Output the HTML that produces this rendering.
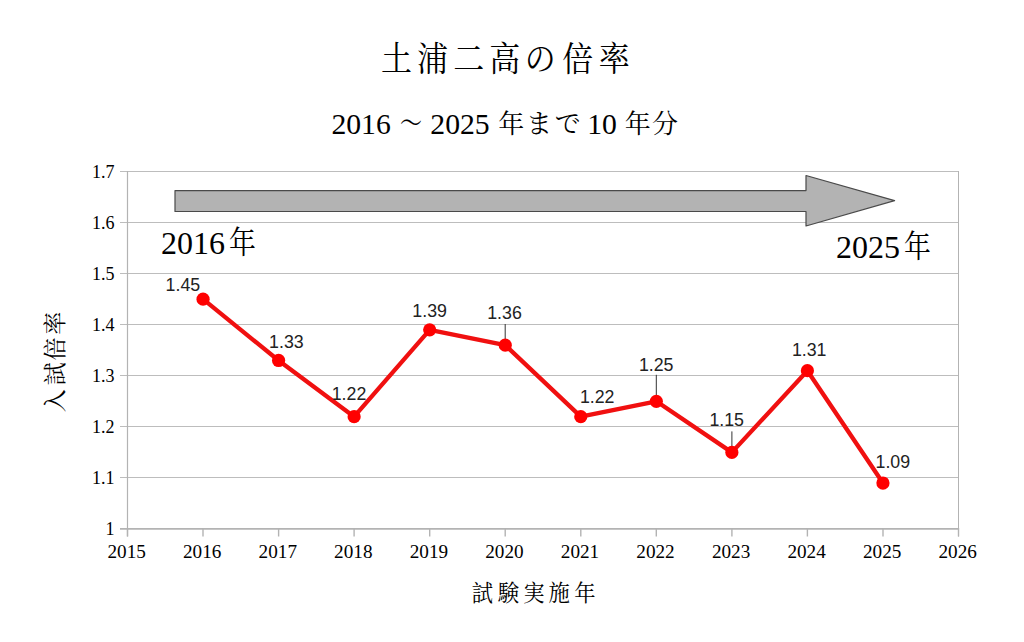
<!DOCTYPE html><html><head><meta charset="utf-8"><style>
html,body{margin:0;padding:0;background:#fff;width:1024px;height:642px;overflow:hidden}
svg{display:block}
.g{stroke:#bdbdbd;stroke-width:1;fill:none}
.ax{stroke:#b3b3b3;fill:none}
.ser{font-family:"Liberation Serif","Noto Serif CJK SC",serif;fill:#000}
.cjk{font-family:"Noto Serif CJK SC","Liberation Serif",serif;fill:#000}
.lbl{font-family:"Liberation Sans","DejaVu Sans",sans-serif;font-size:17.8px;fill:#222}
</style></head><body>
<svg width="1024" height="642" viewBox="0 0 1024 642">
<rect width="1024" height="642" fill="#fff"/>
<line x1="120" y1="477.5" x2="958" y2="477.5" class="g"/>
<line x1="120" y1="426.5" x2="958" y2="426.5" class="g"/>
<line x1="120" y1="375.5" x2="958" y2="375.5" class="g"/>
<line x1="120" y1="324.5" x2="958" y2="324.5" class="g"/>
<line x1="120" y1="273.5" x2="958" y2="273.5" class="g"/>
<line x1="120" y1="222.5" x2="958" y2="222.5" class="g"/>
<line x1="120" y1="171.5" x2="958" y2="171.5" class="g"/>
<line x1="127.5" y1="171" x2="127.5" y2="536.5" class="ax" stroke-width="1.2"/>
<line x1="958.5" y1="171" x2="958.5" y2="536.5" class="ax" stroke-width="1"/>
<line x1="120" y1="528.9" x2="958.5" y2="528.9" class="ax" stroke-width="1.6"/>
<line x1="127.5" y1="528" x2="127.5" y2="536.5" class="ax" stroke-width="1.4"/>
<line x1="203.0" y1="528" x2="203.0" y2="536.5" class="ax" stroke-width="1.4"/>
<line x1="278.6" y1="528" x2="278.6" y2="536.5" class="ax" stroke-width="1.4"/>
<line x1="354.1" y1="528" x2="354.1" y2="536.5" class="ax" stroke-width="1.4"/>
<line x1="429.7" y1="528" x2="429.7" y2="536.5" class="ax" stroke-width="1.4"/>
<line x1="505.2" y1="528" x2="505.2" y2="536.5" class="ax" stroke-width="1.4"/>
<line x1="580.8" y1="528" x2="580.8" y2="536.5" class="ax" stroke-width="1.4"/>
<line x1="656.3" y1="528" x2="656.3" y2="536.5" class="ax" stroke-width="1.4"/>
<line x1="731.9" y1="528" x2="731.9" y2="536.5" class="ax" stroke-width="1.4"/>
<line x1="807.4" y1="528" x2="807.4" y2="536.5" class="ax" stroke-width="1.4"/>
<line x1="883.0" y1="528" x2="883.0" y2="536.5" class="ax" stroke-width="1.4"/>
<line x1="958.5" y1="528" x2="958.5" y2="536.5" class="ax" stroke-width="1.4"/>
<text x="114.5" y="535.0" class="ser" font-size="18" text-anchor="end">1</text>
<text x="114.5" y="483.9" class="ser" font-size="18" text-anchor="end">1.1</text>
<text x="114.5" y="432.9" class="ser" font-size="18" text-anchor="end">1.2</text>
<text x="114.5" y="381.8" class="ser" font-size="18" text-anchor="end">1.3</text>
<text x="114.5" y="330.7" class="ser" font-size="18" text-anchor="end">1.4</text>
<text x="114.5" y="279.6" class="ser" font-size="18" text-anchor="end">1.5</text>
<text x="114.5" y="228.6" class="ser" font-size="18" text-anchor="end">1.6</text>
<text x="114.5" y="177.5" class="ser" font-size="18" text-anchor="end">1.7</text>
<text x="126.7" y="558" class="ser" font-size="19.2" text-anchor="middle">2015</text>
<text x="202.2" y="558" class="ser" font-size="19.2" text-anchor="middle">2016</text>
<text x="277.8" y="558" class="ser" font-size="19.2" text-anchor="middle">2017</text>
<text x="353.3" y="558" class="ser" font-size="19.2" text-anchor="middle">2018</text>
<text x="428.9" y="558" class="ser" font-size="19.2" text-anchor="middle">2019</text>
<text x="504.4" y="558" class="ser" font-size="19.2" text-anchor="middle">2020</text>
<text x="580.0" y="558" class="ser" font-size="19.2" text-anchor="middle">2021</text>
<text x="655.5" y="558" class="ser" font-size="19.2" text-anchor="middle">2022</text>
<text x="731.1" y="558" class="ser" font-size="19.2" text-anchor="middle">2023</text>
<text x="806.6" y="558" class="ser" font-size="19.2" text-anchor="middle">2024</text>
<text x="882.2" y="558" class="ser" font-size="19.2" text-anchor="middle">2025</text>
<text x="957.7" y="558" class="ser" font-size="19.2" text-anchor="middle">2026</text>
<path d="M175 190.6 H806 V175.5 L894.6 200.6 L806 226 V211.5 H175 Z" fill="#b3b3b3" stroke="#4a4a4a" stroke-width="1.2" stroke-linejoin="round"/>
<text x="161" y="253.5" class="ser" font-size="32">2016</text>
<text x="0" y="0" class="cjk" font-size="30.5" text-anchor="middle" transform="translate(242.5,252.8) scale(0.88,1)">年</text>
<text x="836" y="257.8" class="ser" font-size="32">2025</text>
<text x="0" y="0" class="cjk" font-size="30.5" text-anchor="middle" transform="translate(917.3,257.4) scale(0.88,1)">年</text>
<line x1="505.2" y1="324.0" x2="505.2" y2="345.1" stroke="#333" stroke-width="1"/>
<line x1="656.3" y1="374.8" x2="656.3" y2="401.3" stroke="#333" stroke-width="1"/>
<line x1="731.9" y1="431.4" x2="731.9" y2="452.4" stroke="#333" stroke-width="1"/>
<polyline points="203.05,299.19 278.59,360.47 354.13,416.65 429.68,329.83 505.23,345.15 580.77,416.65 656.32,401.32 731.86,452.40 807.40,370.68 882.95,483.04" fill="none" stroke="#f01010" stroke-width="4.3" stroke-linejoin="round"/>
<circle cx="203.05" cy="299.19" r="6.6" fill="#ff0000"/>
<circle cx="278.59" cy="360.47" r="6.6" fill="#ff0000"/>
<circle cx="354.13" cy="416.65" r="6.6" fill="#ff0000"/>
<circle cx="429.68" cy="329.83" r="6.6" fill="#ff0000"/>
<circle cx="505.23" cy="345.15" r="6.6" fill="#ff0000"/>
<circle cx="580.77" cy="416.65" r="6.6" fill="#ff0000"/>
<circle cx="656.32" cy="401.32" r="6.6" fill="#ff0000"/>
<circle cx="731.86" cy="452.40" r="6.6" fill="#ff0000"/>
<circle cx="807.40" cy="370.68" r="6.6" fill="#ff0000"/>
<circle cx="882.95" cy="483.04" r="6.6" fill="#ff0000"/>
<text x="165.6" y="291.2" class="lbl">1.45</text>
<text x="269.1" y="347.9" class="lbl">1.33</text>
<text x="331.7" y="400.3" class="lbl">1.22</text>
<text x="412.3" y="317.0" class="lbl">1.39</text>
<text x="487.2" y="319.1" class="lbl">1.36</text>
<text x="579.9" y="403.4" class="lbl">1.22</text>
<text x="638.9" y="371.1" class="lbl">1.25</text>
<text x="709.4" y="426.1" class="lbl">1.15</text>
<text x="791.9" y="356.0" class="lbl">1.31</text>
<text x="875.5" y="467.9" class="lbl">1.09</text>
<text x="0" y="0" class="cjk" font-size="34" text-anchor="middle" transform="translate(396.4,70.6) scale(0.91,1)">土</text>
<text x="0" y="0" class="cjk" font-size="34" text-anchor="middle" transform="translate(432.5,70.6) scale(0.91,1)">浦</text>
<text x="0" y="0" class="cjk" font-size="34" text-anchor="middle" transform="translate(468.8,70.6) scale(0.91,1)">二</text>
<text x="0" y="0" class="cjk" font-size="34" text-anchor="middle" transform="translate(504.7,70.6) scale(0.91,1)">高</text>
<text x="0" y="0" class="cjk" font-size="34" text-anchor="middle" transform="translate(540.3,70.6) scale(0.91,1)">の</text>
<text x="0" y="0" class="cjk" font-size="34" text-anchor="middle" transform="translate(577.7,70.6) scale(0.91,1)">倍</text>
<text x="0" y="0" class="cjk" font-size="34" text-anchor="middle" transform="translate(614.3,70.6) scale(0.91,1)">率</text>
<text x="331.4" y="133.5" class="ser" font-size="29.7">2016</text>
<text x="0" y="0" class="cjk" font-size="22" text-anchor="middle" transform="translate(411.1,132.8) scale(1,1.25)">～</text>
<text x="430.3" y="133.5" class="ser" font-size="29.7">2025</text>
<text x="511.2" y="132.5" class="cjk" font-size="26" text-anchor="middle">年</text>
<text x="539.1" y="132.5" class="cjk" font-size="26" text-anchor="middle">ま</text>
<text x="567.8" y="132.5" class="cjk" font-size="26" text-anchor="middle">で</text>
<text x="637.7" y="132.5" class="cjk" font-size="26" text-anchor="middle">年</text>
<text x="665" y="132.5" class="cjk" font-size="26" text-anchor="middle">分</text>
<text x="587.2" y="133.5" class="ser" font-size="29.7">10</text>
<text x="0" y="0" class="cjk" font-size="23" text-anchor="middle" transform="translate(482.4,601) scale(0.93,1)">試</text>
<text x="0" y="0" class="cjk" font-size="23" text-anchor="middle" transform="translate(508.4,601) scale(0.93,1)">験</text>
<text x="0" y="0" class="cjk" font-size="23" text-anchor="middle" transform="translate(534,601) scale(0.93,1)">実</text>
<text x="0" y="0" class="cjk" font-size="23" text-anchor="middle" transform="translate(559.3,601) scale(0.93,1)">施</text>
<text x="0" y="0" class="cjk" font-size="23" text-anchor="middle" transform="translate(584.9,601) scale(0.93,1)">年</text>
<text x="0" y="0" class="cjk" font-size="23" text-anchor="middle" transform="translate(63,400.7) rotate(-90)">入</text>
<text x="0" y="0" class="cjk" font-size="23" text-anchor="middle" transform="translate(63,373.8) rotate(-90)">試</text>
<text x="0" y="0" class="cjk" font-size="23" text-anchor="middle" transform="translate(63,349) rotate(-90)">倍</text>
<text x="0" y="0" class="cjk" font-size="23" text-anchor="middle" transform="translate(63,323.2) rotate(-90)">率</text>
</svg></body></html>
